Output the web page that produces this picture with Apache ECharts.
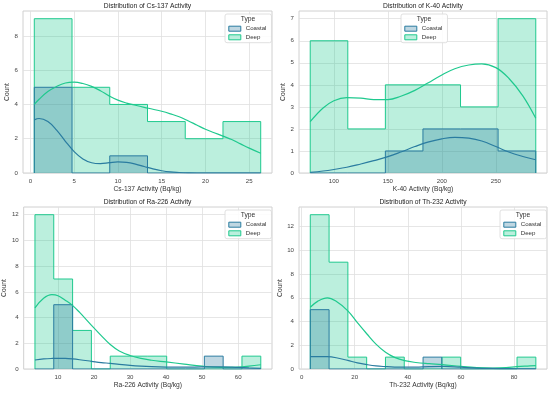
<!DOCTYPE html>
<html><head><meta charset="utf-8">
<script src="https://cdn.jsdelivr.net/npm/echarts@6/dist/echarts.min.js"></script>
<style>html,body{margin:0;padding:0;background:#fff}#c{width:550px;height:393px}</style>
</head><body><div id="c"></div>
<script>
// ---- Cs-137 ----
const cs137Edges = [0.45, 4.76, 9.07, 13.38, 17.69, 22.0, 26.31];
const cs137Coastal = [5, 0, 1, 0, 0, 0];
const cs137Deep = [9, 5, 4, 3, 2, 3];
const cs137KdeX = [0.45, 1, 2, 3, 4, 5, 6, 7, 8, 9, 10, 11, 12, 13, 14, 15, 16, 17, 18, 19, 20, 21, 22, 23, 24, 25, 26.31];
const cs137KdeDeep = [4.0, 4.3, 4.75, 5.05, 5.25, 5.3, 5.22, 5.05, 4.8, 4.5, 4.25, 4.08, 3.95, 3.83, 3.72, 3.6, 3.45, 3.28, 3.05, 2.8, 2.55, 2.35, 2.15, 1.95, 1.7, 1.45, 1.15];
const cs137KdeCoastal = [3.1, 3.18, 3.0, 2.5, 1.85, 1.25, 0.82, 0.6, 0.55, 0.6, 0.65, 0.62, 0.52, 0.38, 0.24, 0.13, 0.06, 0.03, 0.01, 0, 0, 0, 0, 0, 0, 0, 0];
const cs137XTicks = [0, 5, 10, 15, 20, 25];
const cs137YTicks = [0, 2, 4, 6, 8];

// ---- K-40 ----
const k40Edges = [78.1, 112.9, 147.7, 182.5, 217.3, 252.1, 287.0];
const k40Coastal = [0, 0, 1, 2, 2, 1];
const k40Deep = [6, 2, 4, 4, 3, 7];
const k40KdeX = [78.1, 90, 100, 112, 125, 137, 150, 162, 175, 187, 200, 212, 225, 237, 250, 262, 275, 287];
const k40KdeDeep = [2.33, 2.95, 3.28, 3.42, 3.4, 3.33, 3.33, 3.48, 3.75, 4.08, 4.45, 4.73, 4.9, 4.95, 4.78, 4.3, 3.5, 2.48];
const k40KdeCoastal = [0.03, 0.09, 0.16, 0.26, 0.41, 0.56, 0.74, 0.95, 1.2, 1.4, 1.55, 1.62, 1.58, 1.45, 1.2, 0.95, 0.75, 0.6];
const k40XTicks = [100, 150, 200, 250];
const k40YTicks = [0, 1, 2, 3, 4, 5, 6, 7];

// ---- Ra-226 ----
const ra226Edges = [3.6, 8.82, 14.05, 19.27, 24.5, 29.72, 34.94, 40.17, 45.39, 50.62, 55.84, 61.06, 66.29];
const ra226Coastal = [0, 5, 0, 0, 0, 0, 0, 0, 0, 1, 0, 0];
const ra226Deep = [12, 7, 3, 0, 1, 1, 1, 0, 0, 0, 0, 1];
const ra226KdeX = [3.6, 6, 8.3, 10, 12, 14, 16, 19.3, 22, 24.5, 27, 30, 33, 36, 40, 45, 50, 55, 60, 63, 66.29];
const ra226KdeDeep = [4.75, 5.5, 5.78, 5.7, 5.35, 4.95, 4.4, 3.4, 2.6, 1.9, 1.4, 1.05, 0.82, 0.68, 0.55, 0.38, 0.22, 0.13, 0.15, 0.22, 0.33];
const ra226KdeCoastal = [0.7, 0.78, 0.82, 0.83, 0.82, 0.78, 0.72, 0.6, 0.5, 0.44, 0.36, 0.28, 0.22, 0.18, 0.15, 0.14, 0.16, 0.17, 0.12, 0.08, 0.05];
const ra226XTicks = [10, 20, 30, 40, 50, 60];
const ra226YTicks = [0, 2, 4, 6, 8, 10, 12];

// ---- Th-232 ----
const th232Edges = [3.26, 10.34, 17.42, 24.49, 31.57, 38.65, 45.73, 52.81, 59.89, 66.96, 74.04, 81.12, 88.2];
const th232Coastal = [5, 0, 0, 0, 0, 0, 1, 0, 0, 0, 0, 0];
const th232Deep = [13, 9, 1, 0, 1, 0, 0, 1, 0, 0, 0, 1];
const th232KdeX = [3.26, 6, 9.7, 13, 17.4, 21, 24.6, 28, 31.6, 35, 38.8, 43, 48, 53, 60, 66, 72, 77, 81, 85, 88.2];
const th232KdeDeep = [5.2, 5.7, 6.0, 5.7, 4.9, 3.9, 2.95, 2.1, 1.41, 0.98, 0.7, 0.55, 0.45, 0.37, 0.22, 0.12, 0.08, 0.12, 0.2, 0.25, 0.28];
const th232KdeCoastal = [1.04, 1.05, 1.04, 0.95, 0.72, 0.52, 0.37, 0.26, 0.2, 0.16, 0.15, 0.16, 0.2, 0.22, 0.15, 0.08, 0.05, 0.03, 0.02, 0.02, 0.02];
const th232XTicks = [0, 20, 40, 60, 80];
const th232YTicks = [0, 2, 4, 6, 8, 10, 12];

const panelTitles = ['Distribution of Cs-137 Activity', 'Distribution of K-40 Activity', 'Distribution of Ra-226 Activity', 'Distribution of Th-232 Activity'];
const xNames = ['Cs-137 Activity (Bq/kg)', 'K-40 Activity (Bq/kg)', 'Ra-226 Activity (Bq/kg)', 'Th-232 Activity (Bq/kg)'];
const legendTitle = 'Type';

const COASTAL = '#2a7ca0', DEEP = '#1fc98e';
const COASTAL_FILL = 'rgba(42,124,160,0.3)', DEEP_FILL = 'rgba(31,201,142,0.3)';
const FONT = 'Liberation Sans, Arial, sans-serif';

const panels = [
  {edges: cs137Edges, coastal: cs137Coastal, deep: cs137Deep, kx: cs137KdeX, kd: cs137KdeDeep, kc: cs137KdeCoastal, xt: cs137XTicks, yt: cs137YTicks, xr: [-0.84, 27.6], ymax: 9.45},
  {edges: k40Edges, coastal: k40Coastal, deep: k40Deep, kx: k40KdeX, kd: k40KdeDeep, kc: k40KdeCoastal, xt: k40XTicks, yt: k40YTicks, xr: [67.7, 297.4], ymax: 7.35},
  {edges: ra226Edges, coastal: ra226Coastal, deep: ra226Deep, kx: ra226KdeX, kd: ra226KdeDeep, kc: ra226KdeCoastal, xt: ra226XTicks, yt: ra226YTicks, xr: [0.47, 69.4], ymax: 12.6},
  {edges: th232Edges, coastal: th232Coastal, deep: th232Deep, kx: th232KdeX, kd: th232KdeDeep, kc: th232KdeCoastal, xt: th232XTicks, yt: th232YTicks, xr: [-0.99, 92.4], ymax: 13.65}
];

const grids = [
  {left: 23, top: 11, width: 249, height: 162},
  {left: 299, top: 11, width: 248, height: 162},
  {left: 23, top: 207, width: 249, height: 162},
  {left: 299, top: 207, width: 248, height: 162}
];
const legendPos = [[225, 14], [401, 14], [225, 210], [500, 210]];
const LEG_W = 46;

function stepData(edges, counts) {
  const d = [[edges[0], 0]];
  counts.forEach((c, i) => d.push([edges[i], c]));
  d.push([edges[edges.length - 1], counts[counts.length - 1]]);
  d.push([edges[edges.length - 1], 0]);
  return d;
}
function zip(xs, ys) { return xs.map((x, i) => [x, ys[i]]); }

const option = {
  animation: false,
  backgroundColor: '#fff',
  textStyle: {fontFamily: FONT},
  title: [], grid: [], xAxis: [], yAxis: [], series: [], legend: [], graphic: []
};

panels.forEach((p, i) => {
  const g = grids[i];
  option.grid.push(Object.assign({show: true, borderColor: '#d0d0d0', borderWidth: 1, backgroundColor: '#fff'}, g));
  option.title.push({
    text: panelTitles[i], left: g.left + g.width / 2, top: g.top - 8.5, textAlign: 'center', padding: 0,
    textStyle: {fontSize: 6.7, fontWeight: 'normal', color: '#222', fontFamily: FONT}
  });
  option.xAxis.push({
    type: 'value', gridIndex: i, min: p.xr[0], max: p.xr[1],
    name: xNames[i], nameLocation: 'middle', nameGap: 13,
    nameTextStyle: {fontSize: 6.7, color: '#333', fontFamily: FONT},
    axisLine: {show: false}, axisTick: {show: false, customValues: p.xt},
    axisLabel: {customValues: p.xt, fontSize: 6.1, color: '#444', margin: 5, fontFamily: FONT},
    splitLine: {show: true, lineStyle: {color: '#e0e0e0', width: 0.8}}
  });
  option.yAxis.push({
    type: 'value', gridIndex: i, min: 0, max: p.ymax,
    name: 'Count', nameLocation: 'middle', nameGap: 11,
    nameTextStyle: {fontSize: 6.7, color: '#333', fontFamily: FONT},
    axisLine: {show: false}, axisTick: {show: false, customValues: p.yt},
    axisLabel: {customValues: p.yt, fontSize: 6.1, color: '#444', margin: 5, fontFamily: FONT},
    splitLine: {show: true, lineStyle: {color: '#e0e0e0', width: 0.8}}
  });
  option.series.push(
    {name: 'Deep', type: 'line', xAxisIndex: i, yAxisIndex: i, step: 'end', symbol: 'none',
     data: stepData(p.edges, p.deep), lineStyle: {color: DEEP, width: 1}, itemStyle: {color: DEEP},
     areaStyle: {color: DEEP_FILL, opacity: 1}, z: 2},
    {name: 'Coastal', type: 'line', xAxisIndex: i, yAxisIndex: i, step: 'end', symbol: 'none',
     data: stepData(p.edges, p.coastal), lineStyle: {color: COASTAL, width: 1}, itemStyle: {color: COASTAL},
     areaStyle: {color: COASTAL_FILL, opacity: 1}, z: 3},
    {name: 'Deep', type: 'line', xAxisIndex: i, yAxisIndex: i, smooth: 0.4, symbol: 'none',
     data: zip(p.kx, p.kd), lineStyle: {color: DEEP, width: 1.2}, itemStyle: {color: DEEP}, z: 4},
    {name: 'Coastal', type: 'line', xAxisIndex: i, yAxisIndex: i, smooth: 0.4, symbol: 'none',
     data: zip(p.kx, p.kc), lineStyle: {color: COASTAL, width: 1.2}, itemStyle: {color: COASTAL}, z: 4}
  );
  const lp = legendPos[i];
  option.legend.push({
    left: lp[0], top: lp[1], orient: 'vertical', itemGap: 1, padding: [10.9, 5, 1.6, 3.3],
    borderColor: '#d8d8d8', borderWidth: 0.8, borderRadius: 2, backgroundColor: 'rgba(255,255,255,0.85)',
    itemWidth: 12, itemHeight: 5, icon: 'rect', selectedMode: false,
    textStyle: {fontSize: 6.1, color: '#333', fontFamily: FONT, lineHeight: 7.6},
    data: [
      {name: 'Coastal', itemStyle: {color: COASTAL_FILL, borderColor: COASTAL, borderWidth: 1}},
      {name: 'Deep', itemStyle: {color: DEEP_FILL, borderColor: DEEP, borderWidth: 1}}
    ]
  });
  option.graphic.push({
    type: 'text', x: lp[0] + LEG_W / 2, y: lp[1] + 5.3, z: 100,
    style: {text: legendTitle, fontSize: 6.7, fill: '#333', textAlign: 'center', textVerticalAlign: 'middle', fontFamily: FONT}
  });
});

const chart = echarts.init(document.getElementById('c'), null, {renderer: 'canvas'});
chart.setOption(option);
</script></body></html>
